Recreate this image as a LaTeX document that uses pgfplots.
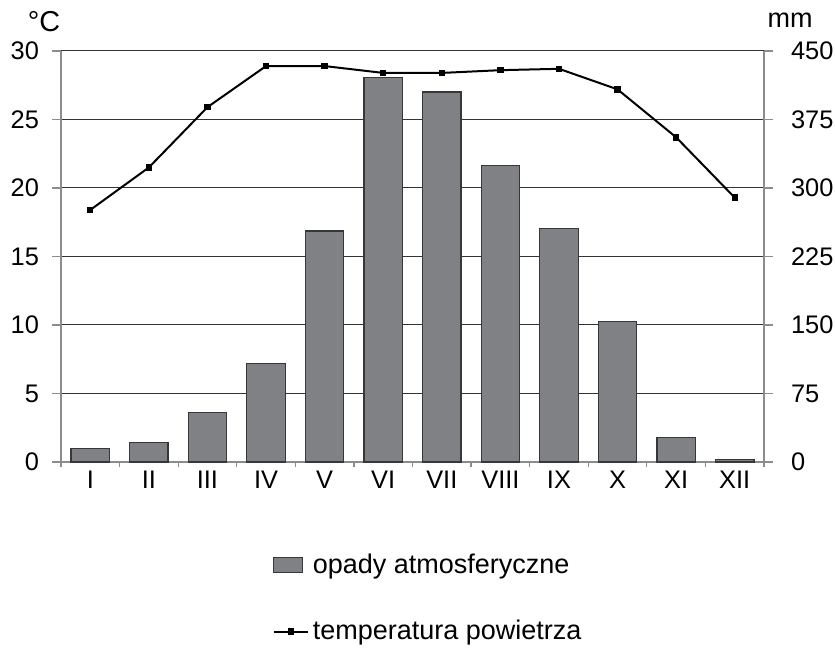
\documentclass[border=0pt]{standalone}
\usepackage{fontspec}
\setmainfont{Liberation Sans}
\usepackage{pgfplots}
\pgfplotsset{compat=1.18}
\definecolor{barfill}{RGB}{128,129,133}
\definecolor{bardraw}{RGB}{55,55,58}
\definecolor{axgray}{RGB}{140,140,140}
\pgfplotsset{barlegend/.style={legend image code/.code={\draw[##1] (0pt,-3.75pt) rectangle (14.5pt,3.75pt);}}}
\begin{document}
\begin{tikzpicture}
\path[use as bounding box] (-30.5pt,-93pt) rectangle (387pt,231pt);
% opady (mm), right axis
\begin{axis}[
    width=351.5pt, height=205.5pt, scale only axis,
    xmin=0.5, xmax=12.5, ymin=0, ymax=450,
    clip=false,
    axis x line*=bottom, axis y line*=right,
    axis line style={axgray, line width=0.6pt},
    xtick={0.5,1.5,...,12.5},
    x tick label as interval,
    xticklabels={I,II,III,IV,V,VI,VII,VIII,IX,X,XI,XII},
    ytick={0,75,...,450},
    tick align=outside,
    tick style={axgray, line width=0.6pt},
    major tick length=4.5pt,
    xtick style={/pgfplots/major tick length=2.5pt},
    ymajorgrids,
    grid style={black!80, line width=0.5pt},
    ticklabel style={font=\fontsize{12.7}{14}\selectfont},
    /pgf/number format/assume math mode=true,
    yticklabel shift=5.5pt,
    xticklabel shift=-3.5pt,
    ybar, bar width=19.2pt,
]
\addplot[fill=barfill, draw=bardraw, line width=0.6pt] coordinates {
    (1,15)(2,21)(3,54)(4,108)(5,253)(6,421)(7,405)(8,325)(9,256)(10,154)(11,27)(12,3)
};
\node[font=\fontsize{13.5}{15}\selectfont] at (rel axis cs:1.037,1.074) {mm};
\end{axis}
% temperatura, left axis
\begin{axis}[
    width=351.5pt, height=205.5pt, scale only axis,
    xmin=0.5, xmax=12.5, ymin=0, ymax=30,
    clip=false,
    axis y line*=left, axis x line=none,
    axis line style={axgray, line width=0.6pt},
    ytick={0,5,...,30},
    tick align=outside,
    tick style={axgray, line width=0.6pt},
    major tick length=4.5pt,
    ticklabel style={font=\fontsize{12.7}{14}\selectfont},
    /pgf/number format/assume math mode=true,
    yticklabel shift=3pt,
    legend style={draw=none, fill=none, at={(rel axis cs:0.292,-0.203)}, anchor=north west,
        font=\fontsize{13.5}{16}\selectfont, row sep=18pt},
    legend cell align=left,
]
\addlegendimage{barlegend, fill=barfill, draw=bardraw, line width=0.6pt}
\addlegendentry{opady atmosferyczne}
\addplot[black, line width=1pt, mark=square*, mark size=1.1pt] coordinates {
    (1,18.4)(2,21.5)(3,25.9)(4,28.9)(5,28.9)(6,28.4)(7,28.4)(8,28.6)(9,28.7)(10,27.2)(11,23.7)(12,19.3)
};
\addlegendentry{temperatura powietrza}
\node[font=\fontsize{14.4}{16}\selectfont] at (rel axis cs:-0.024,1.071) {°C};
\end{axis}
\end{tikzpicture}
\end{document}
